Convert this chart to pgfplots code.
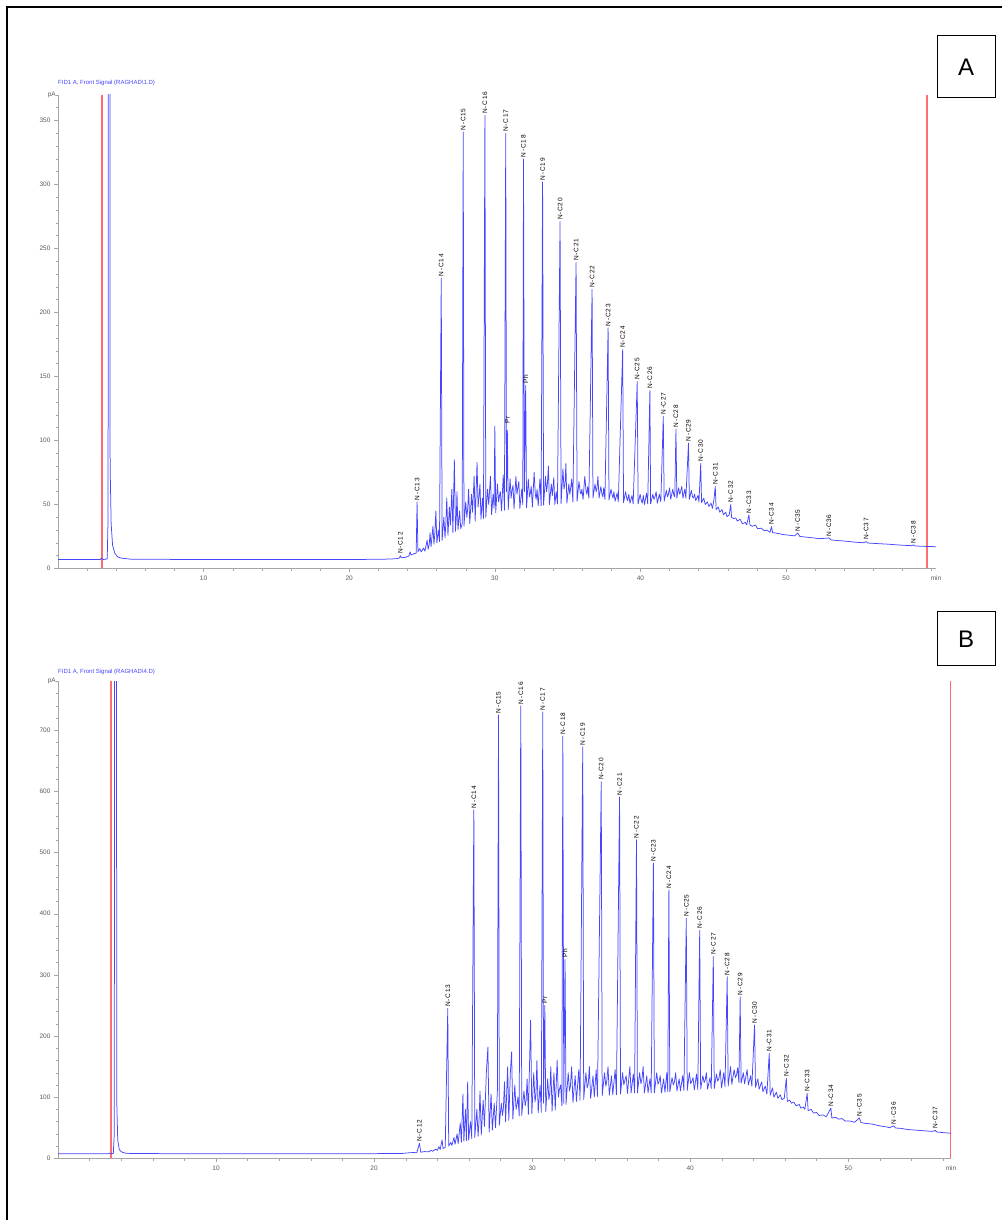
\documentclass[border=0pt]{standalone}
\usepackage{fontspec}
\setmainfont{Liberation Sans}
\newfontfamily\labfont[LetterSpace=12]{Liberation Sans}
\usepackage{pgfplots}
\pgfplotsset{compat=1.18}
\definecolor{sig}{RGB}{70,70,255}
\definecolor{redline}{RGB}{255,110,110}
\definecolor{tickgray}{RGB}{90,90,90}
\pgfplotsset{gcstyle/.style={
  scale only axis, axis lines=left, axis line style={-, gray!70},
  tick align=outside, major tick length=4pt, minor tick length=2.5pt,
  tick style={gray!70, thin},
  tick label style={font=\fontsize{6.5}{7}\selectfont, text=tickgray},
  /pgf/number format/assume math mode=true,
  clip mode=individual, xmin=0, ymin=0}}
\tikzset{lab/.style={rotate=90, anchor=west, inner sep=1.5pt, font=\labfont\fontsize{6.5}{7}\selectfont},
  sigline/.style={draw={rgb,255:red,70;green,70;blue,255}, line width=0.75pt, line join=round},
  redl/.style={draw={rgb,255:red,255;green,110;blue,110}, line width=1.3pt}}

\begin{document}
\begin{tikzpicture}
\useasboundingbox (0pt,0pt) rectangle (1002pt,1220pt);

% ---------- A ----------
\begin{axis}[gcstyle, at={(58pt,651.5pt)}, anchor=south west,
  width=878pt, height=473.6pt, xmax=60.3, ymax=370,
  xtick={10,20,30,40,50}, minor xtick={2,4,...,60},
  ytick={0,50,...,350}, minor ytick={10,20,...,370}]
\addplot[redl] coordinates {(3.03,0) (3.03,370)};
\addplot[redl] coordinates {(59.68,0) (59.68,370)};
\addplot[sigline] coordinates {
(0,7.0) (2.9,7.0) (3.0,8.2) (3.1,7.0) (3.38,7.5) (3.44,40) (3.47,900) (3.55,900) (3.58,80) (3.65,35) (3.75,18) (3.9,12) (4.1,9) (4.4,8) (5,7.3) (8,7.1) (15,7) (21,7.1) (22.5,7.3) (23.2,7.6) (23.45,8.2) (23.52,10) (23.58,8.3) (23.9,8.8) (24.1,9.8) (24.18,13) (24.25,10.5) (24.45,11.5) (24.6,12) (24.66,52) (24.72,13) (24.85,15.5) (24.95,13) (25.1,16) (25.2,13.5) (25.35,22) (25.42,15) (25.5,19) (25.55,28) (25.62,17) (25.75,33) (25.82,19) (25.88,27) (25.95,45) (26.02,20) (26.12,30) (26.2,21) (26.32,227) (26.38,22) (26.5,40) (26.58,24) (26.64,36) (26.7,55) (26.78,26) (26.88,48) (26.95,34) (27.05,62) (27.12,28) (27.22,85) (27.3,29) (27.36,41) (27.4,60) (27.47,30) (27.58,45) (27.66,31) (27.76,35) (27.83,341) (27.88,33) (28.0,52) (28.08,40) (28.14,47) (28.2,62) (28.28,35) (28.4,58) (28.47,44) (28.58,72) (28.65,37) (28.78,83) (28.85,48) (28.92,57) (28.98,66) (29.05,38.5) (29.15,55) (29.22,39) (29.32,354) (29.38,40) (29.5,62) (29.58,50) (29.7,72) (29.78,42) (29.88,58) (29.95,47) (30.0,111) (30.06,43.5) (30.18,66) (30.26,52) (30.32,57) (30.38,60) (30.46,45) (30.58,73) (30.66,45.5) (30.75,340) (30.8,60) (30.86,108) (30.92,46) (31.05,70) (31.12,55) (31.18,61) (31.25,65) (31.32,46.5) (31.45,72) (31.52,58) (31.58,63) (31.65,68) (31.72,47) (31.85,62) (31.92,50) (31.97,320) (32.03,60) (32.12,143) (32.18,47.5) (32.3,70) (32.38,56) (32.44,59) (32.5,64) (32.58,48) (32.7,75) (32.78,58) (32.84,54) (32.9,62) (32.98,49) (33.1,70) (33.18,49) (33.28,302) (33.35,49.5) (33.48,72) (33.55,60) (33.6,64) (33.68,80) (33.75,50) (33.88,66) (33.95,57) (34.05,71) (34.12,50) (34.22,60) (34.3,50.5) (34.48,271) (34.55,50.5) (34.68,78) (34.75,62) (34.82,66) (34.88,82) (34.95,51) (35.08,66) (35.15,58) (35.2,62) (35.28,70) (35.36,52) (35.58,239) (35.65,52.5) (35.78,68) (35.86,60) (35.92,58) (35.98,62) (36.06,54) (36.18,72) (36.26,61) (36.32,58) (36.38,64) (36.46,55) (36.68,218) (36.74,55) (36.88,66) (36.96,60) (37.02,63) (37.08,72) (37.16,55) (37.28,64) (37.36,58) (37.42,56) (37.48,63) (37.56,54) (37.78,188) (37.84,53.5) (37.98,62) (38.06,57) (38.12,55) (38.18,60) (38.26,52.5) (38.4,59) (38.48,52) (38.78,171) (38.84,51.5) (38.98,60) (39.06,55) (39.12,53) (39.2,58) (39.28,51) (39.42,57) (39.5,50.5) (39.78,146) (39.84,50.5) (39.98,58) (40.06,53) (40.12,51) (40.2,57) (40.28,50) (40.42,59) (40.5,50.5) (40.65,139) (40.7,50.5) (40.85,58) (40.93,54) (41.0,56) (41.08,60) (41.16,51) (41.3,58) (41.4,52) (41.57,119) (41.63,52.5) (41.78,61) (41.86,56) (41.92,58) (42.0,63) (42.08,54) (42.22,62) (42.3,57) (42.36,56) (42.44,109) (42.5,55) (42.62,63) (42.7,58) (42.76,60) (42.84,64) (42.92,55) (43.05,62) (43.12,55) (43.3,98) (43.36,54) (43.5,61) (43.58,56) (43.64,55) (43.72,58) (43.8,53) (43.95,57) (44.02,52) (44.14,82) (44.2,51.5) (44.35,55) (44.45,50) (44.6,52) (44.7,48.5) (44.85,51) (44.95,47) (45.05,54) (45.14,64) (45.2,46) (45.35,48) (45.45,44) (45.6,46) (45.7,42) (45.85,44) (45.95,40.5) (46.1,42) (46.2,50) (46.26,40) (46.4,39) (46.55,39.5) (46.65,37) (46.85,38.5) (47.0,35) (47.2,36) (47.3,34) (47.45,42) (47.52,34) (47.7,33) (47.9,34) (48.05,31) (48.3,31.5) (48.5,29.5) (48.7,30) (48.9,28.2) (49.0,32.7) (49.08,28) (49.4,27.5) (49.8,26.5) (50.2,26) (50.6,25.5) (50.8,27.7) (50.95,25) (51.4,24.5) (51.8,24) (52.3,23.3) (52.95,23.8) (53.1,22.3) (53.6,21.8) (54.2,21.2) (54.8,20.5) (55.3,20.1) (55.5,21) (55.6,19.9) (56.2,19.5) (57,19) (57.8,18.3) (58.6,17.8) (58.75,18.4) (58.85,17.6) (59.5,17.3) (60.3,17)};
\node[lab] at (axis cs:23.52,10) {N-C12};
\node[lab] at (axis cs:24.66,52) {N-C13};
\node[lab] at (axis cs:26.32,227) {N-C14};
\node[lab] at (axis cs:27.83,341) {N-C15};
\node[lab] at (axis cs:29.32,354) {N-C16};
\node[lab] at (axis cs:30.75,340) {N-C17};
\node[lab] at (axis cs:31.97,320) {N-C18};
\node[lab] at (axis cs:33.28,302) {N-C19};
\node[lab] at (axis cs:34.48,271) {N-C20};
\node[lab] at (axis cs:35.58,239) {N-C21};
\node[lab] at (axis cs:36.68,218) {N-C22};
\node[lab] at (axis cs:37.78,188) {N-C23};
\node[lab] at (axis cs:38.78,171) {N-C24};
\node[lab] at (axis cs:39.78,146) {N-C25};
\node[lab] at (axis cs:40.65,139) {N-C26};
\node[lab] at (axis cs:41.57,119) {N-C27};
\node[lab] at (axis cs:42.44,109) {N-C28};
\node[lab] at (axis cs:43.3,98) {N-C29};
\node[lab] at (axis cs:44.14,82) {N-C30};
\node[lab] at (axis cs:45.14,64) {N-C31};
\node[lab] at (axis cs:46.2,50) {N-C32};
\node[lab] at (axis cs:47.45,42) {N-C33};
\node[lab] at (axis cs:49.0,32.7) {N-C34};
\node[lab] at (axis cs:50.8,27.7) {N-C35};
\node[lab] at (axis cs:52.95,23.8) {N-C36};
\node[lab] at (axis cs:55.5,21) {N-C37};
\node[lab] at (axis cs:58.75,18.4) {N-C38};
\node[lab] at (axis cs:30.86,112) {Pr};
\node[lab] at (axis cs:32.12,143) {Ph};
\node[anchor=east, font=\fontsize{6.5}{7}\selectfont, text=tickgray, inner sep=2pt] at (axis cs:0,370) {pA};
\node[anchor=north, font=\fontsize{6.5}{7}\selectfont, text=tickgray, inner sep=1pt, yshift=-6pt] at (axis cs:60.3,0) {min};
\end{axis}

% ---------- B ----------
\begin{axis}[gcstyle, at={(58pt,61.7pt)}, anchor=south west,
  width=893pt, height=476.9pt, xmax=56.5, ymax=780,
  xtick={10,20,30,40,50}, minor xtick={2,4,...,56},
  ytick={0,100,...,700}, minor ytick={20,40,...,780}]
\addplot[redl] coordinates {(3.35,0) (3.35,780)};
\addplot[redl] coordinates {(56.45,0) (56.45,780)};
\addplot[sigline] coordinates {
(0,7.5) (3.2,7.5) (3.3,8.5) (3.4,7.5) (3.5,8) (3.56,40) (3.6,1500) (3.68,1500) (3.72,90) (3.78,30) (3.88,14) (4.05,10) (4.3,8.2) (5,7.7) (10,7.5) (20,7.6) (21.8,8) (22.2,9) (22.5,9.5) (22.7,9) (22.87,24.5) (22.95,10) (23.2,11) (23.45,10.5) (23.6,13) (23.7,11.5) (23.9,15) (24.0,13) (24.1,19) (24.18,14.5) (24.3,30) (24.36,16) (24.5,18) (24.66,245) (24.72,20) (24.85,26) (24.92,21) (25.05,34) (25.12,23) (25.25,40) (25.32,24) (25.45,58) (25.52,26) (25.62,105) (25.68,28) (25.78,80) (25.84,29) (25.92,125) (25.98,30) (26.1,60) (26.18,32) (26.31,570) (26.37,34) (26.5,80) (26.58,36) (26.64,62) (26.7,110) (26.78,38) (26.9,95) (26.98,52) (27.1,140) (27.2,182) (27.28,43) (27.4,105) (27.48,46) (27.6,90) (27.68,50) (27.8,110) (27.87,725) (27.92,54) (28.05,90) (28.12,70) (28.18,82) (28.25,125) (28.32,60) (28.45,150) (28.52,62) (28.62,140) (28.7,174) (28.78,64) (28.9,120) (28.98,80) (29.04,88) (29.1,100) (29.18,69) (29.28,740) (29.34,70) (29.48,110) (29.56,86) (29.62,95) (29.68,130) (29.76,72) (29.9,226) (29.98,73) (30.1,140) (30.18,92) (30.24,104) (30.3,160) (30.38,74.5) (30.5,120) (30.58,75) (30.67,730) (30.72,90) (30.8,250) (30.86,76) (30.98,130) (31.06,96) (31.12,108) (31.18,150) (31.26,77) (31.38,140) (31.46,79) (31.58,160) (31.66,100) (31.72,112) (31.8,120) (31.88,86) (31.94,690) (32.0,90) (32.08,325) (32.14,88) (32.28,140) (32.36,110) (32.42,118) (32.5,150) (32.58,91) (32.72,135) (32.8,93) (32.95,145) (33.03,95) (33.2,673) (33.26,96) (33.4,140) (33.48,115) (33.55,122) (33.62,150) (33.7,98) (33.85,135) (33.93,100) (34.05,145) (34.13,101) (34.37,616) (34.43,102) (34.58,140) (34.66,118) (34.72,126) (34.8,150) (34.88,103) (35.02,135) (35.1,104) (35.25,145) (35.33,104) (35.53,591) (35.59,105) (35.72,140) (35.8,120) (35.87,128) (35.95,135) (36.03,106) (36.18,150) (36.26,107) (36.4,138) (36.48,107) (36.6,521) (36.66,107) (36.8,140) (36.88,122) (36.95,130) (37.02,150) (37.1,107) (37.25,135) (37.33,107) (37.45,130) (37.53,107) (37.67,483) (37.73,107) (37.88,140) (37.96,121) (38.03,126) (38.1,135) (38.18,107) (38.32,130) (38.4,108) (38.52,140) (38.58,109) (38.65,439) (38.71,109) (38.85,132) (38.93,120) (39.0,125) (39.08,140) (39.16,110) (39.3,130) (39.38,110) (39.52,135) (39.6,111) (39.75,393) (39.81,111) (39.95,140) (40.03,122) (40.1,126) (40.18,132) (40.26,112) (40.4,138) (40.48,112) (40.6,373) (40.66,113) (40.8,135) (40.88,124) (40.95,128) (41.02,140) (41.1,113) (41.25,132) (41.33,114) (41.46,330) (41.52,114) (41.66,138) (41.74,126) (41.82,131) (41.9,145) (41.98,115) (42.12,140) (42.2,117) (42.34,297) (42.4,118) (42.55,150) (42.63,121) (42.78,145) (42.86,132) (42.93,136) (43.0,148) (43.08,124) (43.16,264) (43.22,123) (43.36,140) (43.44,122) (43.6,145) (43.68,120) (43.82,135) (43.9,118) (44.07,218) (44.13,116) (44.28,130) (44.36,113) (44.52,125) (44.6,109) (44.75,118) (44.85,105) (45.0,172) (45.06,103) (45.2,115) (45.3,100) (45.45,108) (45.55,98) (45.7,104) (45.8,96) (45.95,98) (46.08,131) (46.14,93) (46.3,95) (46.4,90) (46.55,92) (46.7,86) (46.9,88) (47.0,82) (47.15,84) (47.25,80) (47.4,106) (47.46,78) (47.65,80) (47.8,74) (48.0,75) (48.15,70) (48.4,71) (48.6,68) (48.9,82) (48.96,66) (49.2,67) (49.4,64) (49.6,65) (49.8,61) (50.1,61) (50.4,59) (50.7,66) (50.8,58.5) (51.1,57) (51.5,56) (52.0,53) (52.4,51.5) (52.6,50) (52.87,53) (53.0,49.5) (53.3,49) (53.8,47) (54.3,46) (54.8,45) (55.3,44) (55.5,45.5) (55.6,43) (56,42) (56.5,41)};
\node[lab] at (axis cs:22.87,24.5) {N-C12};
\node[lab] at (axis cs:24.66,245) {N-C13};
\node[lab] at (axis cs:26.31,570) {N-C14};
\node[lab] at (axis cs:27.87,725) {N-C15};
\node[lab] at (axis cs:29.28,740) {N-C16};
\node[lab] at (axis cs:30.67,730) {N-C17};
\node[lab] at (axis cs:31.94,690) {N-C18};
\node[lab] at (axis cs:33.2,673) {N-C19};
\node[lab] at (axis cs:34.37,616) {N-C20};
\node[lab] at (axis cs:35.53,591) {N-C21};
\node[lab] at (axis cs:36.6,521) {N-C22};
\node[lab] at (axis cs:37.67,483) {N-C23};
\node[lab] at (axis cs:38.65,439) {N-C24};
\node[lab] at (axis cs:39.75,393) {N-C25};
\node[lab] at (axis cs:40.6,373) {N-C26};
\node[lab] at (axis cs:41.46,330) {N-C27};
\node[lab] at (axis cs:42.34,297) {N-C28};
\node[lab] at (axis cs:43.16,264) {N-C29};
\node[lab] at (axis cs:44.07,218) {N-C30};
\node[lab] at (axis cs:45.0,172) {N-C31};
\node[lab] at (axis cs:46.08,131) {N-C32};
\node[lab] at (axis cs:47.4,106) {N-C33};
\node[lab] at (axis cs:48.9,82) {N-C34};
\node[lab] at (axis cs:50.7,66) {N-C35};
\node[lab] at (axis cs:52.87,53) {N-C36};
\node[lab] at (axis cs:55.5,45.5) {N-C37};
\node[lab] at (axis cs:30.8,250) {Pr};
\node[lab] at (axis cs:32.08,325) {Ph};
\node[anchor=east, font=\fontsize{6.5}{7}\selectfont, text=tickgray, inner sep=2pt] at (axis cs:0,780) {pA};
\node[anchor=north, font=\fontsize{6.5}{7}\selectfont, text=tickgray, inner sep=1pt, yshift=-6pt] at (axis cs:56.5,0) {min};
\end{axis}

% ---------- frame, titles, panel letters ----------
\draw[line width=2pt] (7pt,0pt) -- (7pt,1213pt) -- (1002pt,1213pt);
\node[anchor=west, text=sig, font=\fontsize{6}{7}\selectfont, inner sep=0pt] at (58pt,1137pt) {FID1 A, Front Signal (RAGHAD\textbackslash 1.D)};
\draw[line width=1pt] (937pt,1184pt) rectangle (995pt,1122pt);
\node[font=\fontsize{24}{26}\selectfont] at (966pt,1153pt) {A};
\node[anchor=west, text=sig, font=\fontsize{6}{7}\selectfont, inner sep=0pt] at (58pt,548pt) {FID1 A, Front Signal (RAGHAD\textbackslash 4.D)};
\draw[line width=1pt] (937pt,608pt) rectangle (995pt,554pt);
\node[font=\fontsize{24}{26}\selectfont] at (966pt,581pt) {B};
\end{tikzpicture}
\end{document}
